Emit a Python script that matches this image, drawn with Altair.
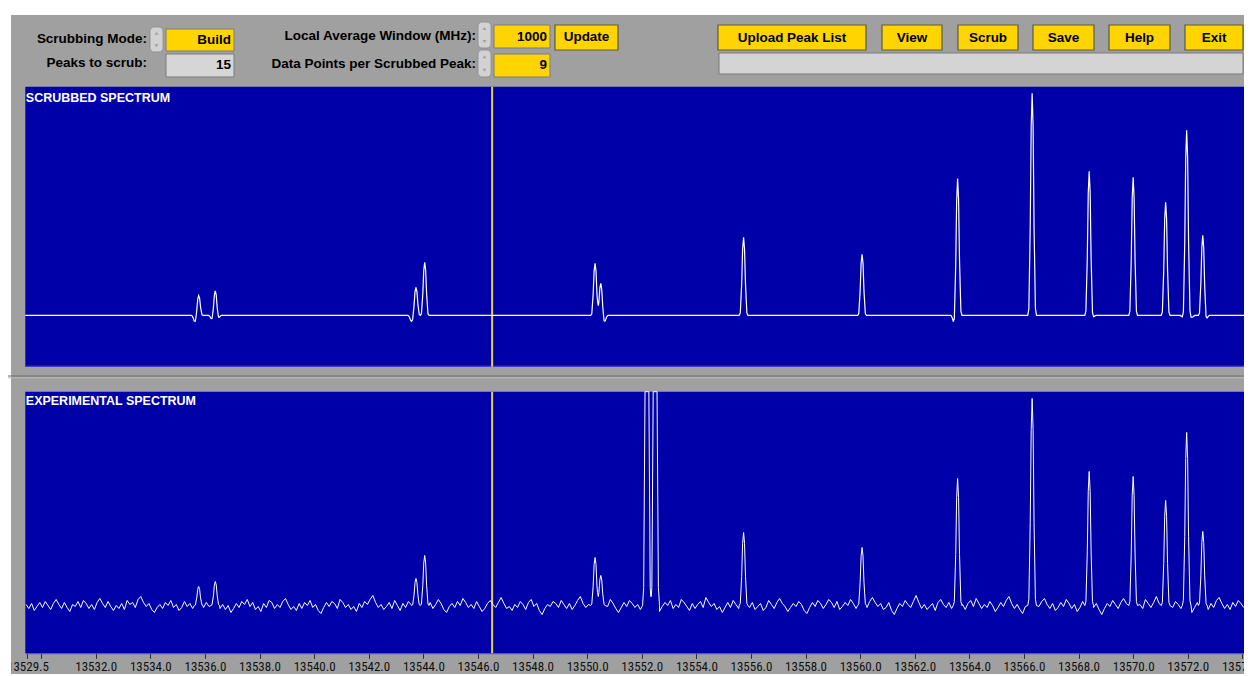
import altair as alt
import numpy as np
import pandas as pd

# ---------------- data ----------------
peak_freq = [13535.77, 13536.38, 13543.73, 13544.05, 13550.29, 13550.50,
             13552.19, 13552.49, 13555.73, 13560.07, 13563.57, 13566.30,
             13568.39, 13570.00, 13571.19, 13571.96, 13572.55]
scrubbed_height = [20, 25, 28, 53, 52, 32, 0, 0, 78, 61, 137, 222, 144, 138, 113, 185, 80]
experimental_height = [19, 24, 27, 50, 48, 30, 600, 600, 73, 58, 127, 207, 134, 129, 105, 173, 74]

dip_freq = [13535.64, 13536.26, 13536.48, 13543.57, 13550.63, 13563.45,
            13568.53, 13571.84, 13572.15, 13572.67]
dip_depth = [-6.5, -4, -3, -6, -6.5, -7.5, -1.5, -2, -2, -3.5]

# line shape of one peak (9 data points per scrubbed peak)
profile_offset = [-0.16, -0.12, -0.07, -0.035, 0.0, 0.035, 0.07, 0.12, 0.16]
profile_frac = [0.0, 0.03, 0.4, 0.85, 1.0, 0.85, 0.4, 0.03, 0.0]

noise_start = 13529.45
noise_step = 0.1
experimental_noise = [
    1, -3, 2, -5, -1, 3, -2, 4, 0, -4, 2, 6, 1, -3, 3, -2, -6, 1, -1, 4,
    -2, 5, 2, -3, 1, -4, 3, 7, 2, -2, 4, -1, -5, 0, -3, 2, -4, 5, 1, 3,
    -2, 6, 9, 3, -1, 2, -4, -7, -2, 1, -3, 3, 0, 5, -2, 1, -5, -2, 4, -1,
    2, -3, 5, 1, -6, -2, 3, -1, 4, 8, 2, -3, 1, -4, 0, -7, -3, 2, -2, 4,
    1, 6, -1, 3, -4, -1, -6, 2, -2, 5, 3, -3, 1, -2, 4, 7, 1, -4, -1, -5,
    2, -3, 3, 0, 5, -2, 1, -5, -8, -2, 3, -1, 4, 2, -3, 6, 3, -2, 1, -4,
    -1, -6, 2, -2, 4, 1, 6, 10, 3, -2, 1, -4, -1, 3, -3, 5, 0, -5, 2, -2,
    4, 1, -3, 5, 2, -1, -5, -2, 3, -3, 1, 6, 2, -4, -7, -1, 2, -2, 4, 0,
    7, 3, -2, 1, -3, 4, -1, -6, -3, 2, 5, 1, -2, 3, 8, 2, -3, -1, -5, 1,
    -2, 4, 1, -4, 3, 6, -1, 2, -5, -9, -3, 1, -1, 4, 2, -2, 5, 1, -3, 2,
    -4, 0, 5, 9, 2, -2, 1, -3, 3, -5, -2, 4, 1, -1, 6, 2, -3, -7, -2, 3,
    -1, 5, 2, -2, 1, -4, 4, 7, 1, -3, 2, -2, -6, -1, 3, 0, 5, -3, 1, -2,
    6, 3, -1, -5, 2, -3, 1, 4, -2, 8, 3, -1, 2, -4, -1, -7, -2, 3, -2, 5,
    1, -3, 4, 9, 2, -2, 3, -4, -1, 2, -5, -2, 5, 1, -3, 3, 7, 2, -1, -6,
    -2, 2, -1, 4, 1, -5, -8, -2, 3, -1, 5, 2, -3, 1, 6, 3, -2, 4, -4, -1,
    3, 0, 6, 2, -3, -1, -6, 1, -2, 4, 8, 3, -1, 2, -4, -2, 3, -5, -9, -3,
    2, -1, 5, 1, -2, 4, 10, 3, -3, 1, -4, -1, 2, -5, 3, 6, 1, -2, 3, -3,
    -7, -2, 3, 1, -4, 2, 5, -1, 7, 2, -3, 1, -2, 4, 0, -6, -2, 3, -1, 5,
    9, 2, -3, 1, -4, -8, -1, 3, -2, 5, 2, -1, 4, 7, 1, -3, 2, -5, -2, 3,
    -1, 6, 2, -3, 1, -6, -2, 4, 1, 8, 3, -2, 2, -4, -9, -3, 2, -1, 5, 1,
    -3, 3, 7, 2, -2, 4, -1, -5, 1, -3, 6, 2, -2, 3, 9, 2, -4, -1, 3, -6,
    -2, 4, 1, -3, 5, 2, -1, -7, -2, 3, -1, 6, 1, -4, 2, -2, 5, 8, 2, -3,
    1, -4, 3, -1, 5, 2, -2,
]

cursor_freq = 13546.52
freq_domain = [13529.42, 13574.06]
tick_values = [13529.5, 13530.0] + [13532.0 + 2 * i for i in range(21)] + [13574.0]

# control panel content
mode_value = "Build"
peaks_to_scrub = "15"
avg_window = "1000"
points_per_peak = "9"
button_labels = ["Upload Peak List", "View", "Scrub", "Save", "Help", "Exit"]

# ---------------- build spectra ----------------
prof_off = np.array(profile_offset)
prof_frac = np.array(profile_frac)


def peak_sum(freqs, centers, heights):
    out = np.zeros(len(freqs))
    for c, h in zip(centers, heights):
        out += h * np.interp(freqs - c, prof_off, prof_frac, left=0.0, right=0.0)
    return out


sc_centers = [c for c, h in zip(peak_freq, scrubbed_height) if h != 0]
sc_heights = [h for h in scrubbed_height if h != 0]
sc_f = sorted(set([freq_domain[0], freq_domain[1]] +
                  [round(c + o, 4) for c in sc_centers + dip_freq for o in profile_offset]))
sc_f = np.array(sc_f)
sc_y = peak_sum(sc_f, sc_centers, sc_heights) + peak_sum(sc_f, dip_freq, dip_depth)
scrub_df = pd.DataFrame({"freq": sc_f, "intensity": sc_y})

noise_f = noise_start + noise_step * np.arange(len(experimental_noise))
noise_v = np.array(experimental_noise, dtype=float)
keep = np.array([(min(abs(f - c) for c in peak_freq) > 0.16) and (f <= freq_domain[1])
                 for f in noise_f])
pk_f = np.array(sorted(set(round(c + o, 4) for c in peak_freq for o in profile_offset)))
pk_v = peak_sum(pk_f, peak_freq, experimental_height)
exp_df = pd.DataFrame({"freq": np.concatenate([noise_f[keep], pk_f]),
                       "intensity": np.concatenate([noise_v[keep], pk_v])}).sort_values("freq")

# ---------------- styling ----------------
GRAY = "#A0A0A0"
BLUE = "#0000A8"
YELLOW = "#FFD400"
UI_FONT = "Liberation Sans"
AXIS_FONT = "Liberation Sans Narrow, Roboto Condensed, Liberation Sans"

W, H = 1236, 645.3
PX0, PX1 = 17.3, 1236            # plot area x (chart px)
TOP0, TOP1 = 78.7, 358.7         # top plot y
BOT0, BOT1 = 383.7, 645.3        # bottom plot y

dummy = pd.DataFrame({"a": [0]})
base = alt.Chart(dummy)


def rect(x, x2, y, y2, fill, stroke=None, sw=1, r=0):
    kw = dict(fill=fill, cornerRadius=r)
    if stroke:
        kw.update(stroke=stroke, strokeWidth=sw)
    else:
        kw.update(strokeWidth=0)
    return base.mark_rect(**kw).encode(
        x=alt.value(x), x2=alt.value(x2), y=alt.value(y), y2=alt.value(y2))


def text(s, x, y, size=13.5, color="black", align="right", weight="bold", font=UI_FONT):
    return base.mark_text(text=s, align=align, baseline="middle", fontSize=size,
                          fontWeight=weight, color=color, font=font).encode(
        x=alt.value(x), y=alt.value(y))


def hline(x, x2, y, color, sw=1):
    return base.mark_rule(color=color, strokeWidth=sw).encode(
        x=alt.value(x), x2=alt.value(x2), y=alt.value(y))


def spinner(x, x2, y, y2):
    cx = (x + x2) / 2
    return [
        rect(x, x2, y, y2, "#D2D2D2", stroke="#8A8A8A", sw=0.8, r=4),
        base.mark_point(shape="triangle-up", filled=True, size=14, color="#8A8A8A").encode(
            x=alt.value(cx), y=alt.value(y + (y2 - y) * 0.25)),
        base.mark_point(shape="triangle-down", filled=True, size=14, color="#8A8A8A").encode(
            x=alt.value(cx), y=alt.value(y + (y2 - y) * 0.75)),
    ]


layers = []
# white outer strip
layers.append(rect(-2, W + 2, -6, 7, "white"))
layers.append(rect(-6, 3, -6, 700, "white"))

# control panel
layers.append(text("Scrubbing Mode:", 139, 31))
layers += spinner(142, 155, 19, 44)
layers.append(rect(158, 226, 21, 43, YELLOW, stroke="#7C7C7C", sw=1))
layers.append(text(mode_value, 223, 32))
layers.append(text("Peaks to scrub:", 139, 55))
layers.append(rect(158, 226, 46, 69, "#D6D6D6", stroke="#7C7C7C", sw=1))
layers.append(text(peaks_to_scrub, 223, 57.5))

layers.append(text("Local Average Window (MHz):", 468, 28))
layers += spinner(470, 483, 14, 40)
layers.append(rect(486, 542, 17, 40, YELLOW, stroke="#7C7C7C", sw=1))
layers.append(text(avg_window, 539, 29))
layers.append(rect(547, 610, 17, 42, YELLOW, stroke="#5E5A3A", sw=1.2))
layers.append(text("Update", 578.5, 29.5, align="center"))
layers.append(text("Data Points per Scrubbed Peak:", 468, 56))
layers += spinner(470, 483, 42, 69)
layers.append(rect(486, 542, 46, 69, YELLOW, stroke="#7C7C7C", sw=1))
layers.append(text(points_per_peak, 539, 57.5))

button_x = [(710, 858), (874, 934), (950, 1010), (1025, 1086), (1101, 1162), (1177, 1235)]
for lab, (bx0, bx1) in zip(button_labels, button_x):
    layers.append(rect(bx0, bx1, 17, 42, YELLOW, stroke="#5E5A3A", sw=1.2))
    layers.append(text(lab, (bx0 + bx1) / 2, 30, align="center"))
layers.append(rect(711, 1235, 45, 66, "#D4D4D4", stroke="#7A7A7A", sw=1))

# plot backgrounds
layers.append(rect(PX0, PX1, TOP0, TOP1, BLUE))
layers.append(rect(PX0, PX1, BOT0, BOT1, BLUE))
layers.append(hline(PX0, PX1, TOP1 - 0.5, "#4A4ACC", 1))
layers.append(hline(0, W, 368, "#6E6E6E", 1.2))
layers.append(hline(0, W, 369.8, "#BDBDBD", 1))

layers.append(text("SCRUBBED SPECTRUM", PX0 + 0.5, 90, size=12.5, color="white", align="left"))
layers.append(text("EXPERIMENTAL SPECTRUM", PX0 + 0.5, 393.5, size=12.5, color="white", align="left"))

x_scale = alt.Scale(domain=freq_domain, range=[PX0, PX1], nice=False, zero=False)
x_axis = alt.Axis(values=tick_values,
                  labelExpr="datum.value == 13530 ? '' : format(datum.value, '.1f')",
                  title=None, grid=False, domain=True, domainColor="#5A5AD6", domainWidth=1,
                  tickColor="#2A2A2A", tickSize=5, tickWidth=1,
                  labelFont=AXIS_FONT, labelFontSize=13, labelColor="#111111",
                  labelPadding=2, labelFlush=False, labelOverlap=False, labelBound=False)

cursor_df = pd.DataFrame({"freq": [cursor_freq]})
CURSOR = "#E0D25E"
layers.append(alt.Chart(cursor_df).mark_rule(color=CURSOR, strokeWidth=2).encode(
    x=alt.X("freq:Q", scale=x_scale, axis=x_axis), y=alt.value(TOP0), y2=alt.value(TOP1)))
layers.append(alt.Chart(cursor_df).mark_rule(color=CURSOR, strokeWidth=2).encode(
    x=alt.X("freq:Q", scale=x_scale, axis=x_axis), y=alt.value(BOT0), y2=alt.value(BOT1)))

top_line = alt.Chart(scrub_df).mark_line(color="white", strokeWidth=1.2).encode(
    x=alt.X("freq:Q", scale=x_scale, axis=x_axis),
    y=alt.Y("intensity:Q", axis=None,
            scale=alt.Scale(domain=[-51.4, 228.6], range=[TOP1, TOP0], nice=False, zero=False)))
bot_line = alt.Chart(exp_df).mark_line(color="white", strokeWidth=1).encode(
    x=alt.X("freq:Q", scale=x_scale, axis=x_axis),
    y=alt.Y("intensity:Q", axis=None,
            scale=alt.Scale(domain=[-47.8, 213.8], range=[BOT1, BOT0], nice=False, zero=False,
                            clamp=True)))
layers += [top_line, bot_line]

chart = alt.layer(*layers).resolve_scale(y="independent").properties(
    width=W, height=H, background=GRAY, autosize="none",
    padding={"left": 0, "top": 0, "right": 0, "bottom": 21},
).configure_view(stroke=None)

chart.save("out.html", embed_options={"renderer": "svg", "actions": False})
